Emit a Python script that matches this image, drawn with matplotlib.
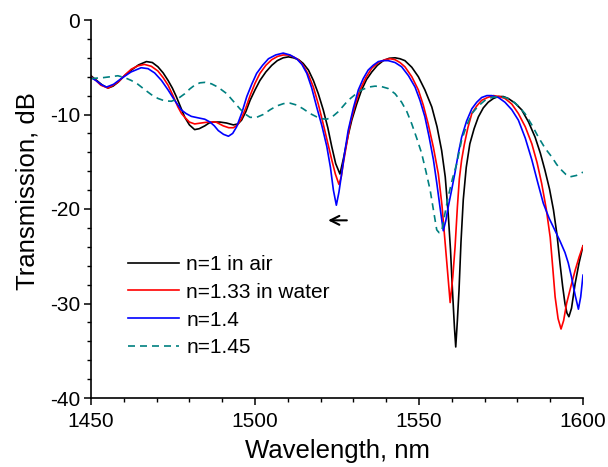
import matplotlib
matplotlib.use("Agg")
import matplotlib.pyplot as plt
from matplotlib.ticker import MultipleLocator

plt.rcParams['font.family'] = ['Liberation Sans', 'DejaVu Sans']

# ---- data ----
air_x = [1450.0, 1451.0, 1452.1, 1453.5, 1455.2, 1456.7, 1458.2, 1460.2, 1462.3, 1464.5,
         1466.9, 1468.7, 1470.4, 1472.0, 1473.5, 1474.8, 1476.0, 1477.3, 1478.6, 1480.0,
         1481.6, 1483.0, 1484.7, 1486.0, 1487.2, 1489.3, 1491.3, 1493.4, 1494.8, 1495.9,
         1497.2, 1498.5, 1500.0, 1501.5, 1503.3, 1505.1, 1506.8, 1508.6, 1510.2, 1511.7,
         1513.3, 1514.7, 1516.3, 1517.8, 1519.3, 1520.8, 1522.2, 1523.4, 1524.6, 1525.9,
         1527.0, 1528.4, 1529.5, 1531.0, 1532.5, 1534.0, 1535.6, 1537.3, 1539.1, 1540.9,
         1542.7, 1544.2, 1545.7, 1547.8, 1549.8, 1551.8, 1553.9, 1555.5, 1556.9, 1558.0,
         1558.9, 1559.6, 1560.2, 1560.8, 1561.2, 1561.7, 1562.2, 1562.8, 1563.5, 1564.4,
         1565.5, 1566.8, 1568.1, 1569.6, 1571.1, 1572.7, 1574.2, 1575.7, 1577.2, 1579.3,
         1581.3, 1583.4, 1585.4, 1587.0, 1588.4, 1589.8, 1591.0, 1592.1, 1593.0, 1593.8,
         1594.5, 1595.1, 1595.7, 1596.5, 1597.6, 1598.8, 1600.0]
air_y = [-5.9, -6.2, -6.5, -6.9, -7.2, -7.0, -6.6, -5.9, -5.3, -4.75,
         -4.4, -4.5, -4.95, -5.6, -6.4, -7.2, -8.1, -9.2, -10.3, -11.1,
         -11.6, -11.5, -11.2, -10.9, -10.8, -10.8, -10.9, -11.1, -11.0, -10.6,
         -9.7, -8.5, -7.4, -6.4, -5.5, -4.8, -4.3, -4.0, -3.9, -4.0,
         -4.2, -4.6, -5.3, -6.4, -7.8, -9.5, -11.4, -13.4, -15.2, -16.3,
         -14.6, -12.2, -10.6, -8.9, -7.4, -6.3, -5.5, -4.8, -4.3, -4.05,
         -4.0, -4.1, -4.3, -5.0, -6.0, -7.4, -9.2, -11.3, -13.8, -16.6,
         -20.5, -24.3, -28.6, -32.5, -34.6, -31.8, -28.6, -23.5, -19.0, -15.6,
         -13.1, -11.5, -10.25, -9.3, -8.7, -8.3, -8.1, -8.1, -8.3, -8.8,
         -9.5, -10.8, -12.4, -14.1, -15.9, -17.9, -20.1, -22.8, -25.8, -28.2,
         -30.0, -31.0, -31.4, -30.5, -27.9, -25.7, -23.9]

water_x = [1450.0, 1451.5, 1453.0, 1455.2, 1456.8, 1458.5, 1460.4, 1462.3, 1464.3, 1466.3,
           1468.4, 1470.4, 1472.0, 1473.5, 1475.0, 1476.5, 1477.6, 1478.6, 1480.0, 1481.6,
           1483.6, 1485.7, 1488.1, 1490.3, 1492.0, 1493.4, 1494.7, 1495.9, 1497.2, 1498.5,
           1500.0, 1501.5, 1503.3, 1505.1, 1506.9, 1508.6, 1510.2, 1511.7, 1513.2, 1514.7,
           1516.3, 1517.8, 1519.3, 1520.8, 1522.1, 1523.4, 1524.5, 1525.6, 1526.3, 1526.9,
           1528.0, 1529.0, 1530.5, 1532.0, 1533.8, 1535.6, 1537.6, 1539.6, 1541.2, 1542.7,
           1544.2, 1545.7, 1547.8, 1549.8, 1551.3, 1552.8, 1554.4, 1555.9, 1557.0, 1557.9,
           1558.8, 1559.5, 1560.3, 1561.0, 1561.7, 1562.3, 1563.0, 1563.8, 1564.9, 1566.1,
           1567.6, 1569.1, 1570.9, 1572.7, 1574.5, 1576.2, 1578.3, 1580.3, 1582.4, 1584.4,
           1586.0, 1587.4, 1588.8, 1590.0, 1590.8, 1591.5, 1592.4, 1593.3, 1594.1, 1595.0,
           1596.3, 1597.6, 1598.8, 1600.0]
water_y = [-6.0, -6.4, -6.9, -7.2, -6.9, -6.5, -5.8, -5.2, -4.85, -4.7,
           -4.9, -5.4, -6.1, -6.9, -8.0, -9.2, -9.9, -10.3, -10.8, -11.0,
           -10.9, -10.8, -10.8, -11.2, -11.4, -11.4, -11.1, -10.4, -9.3, -8.0,
           -6.7, -5.65, -4.8, -4.2, -3.85, -3.7, -3.7, -3.9, -4.2, -4.8,
           -5.8, -7.1, -8.9, -11.0, -12.9, -14.8, -16.3, -17.4, -16.6, -15.2,
           -13.0, -11.0, -9.0, -7.4, -6.1, -5.1, -4.5, -4.2, -4.1, -4.2,
           -4.5, -4.95, -6.0, -7.4, -9.0, -11.0, -13.5, -16.3, -19.6, -23.3,
           -27.0, -29.9, -27.2, -24.0, -19.8, -16.8, -14.8, -13.2, -11.4, -9.9,
           -9.1, -8.5, -8.2, -8.0, -8.1, -8.3, -8.9, -9.9, -11.3, -13.1,
           -15.1, -17.3, -20.0, -23.0, -26.3, -29.3, -31.6, -32.7, -31.8, -30.0,
           -28.2, -26.5, -25.1, -23.9]

n14_x = [1450.0, 1451.5, 1453.0, 1454.7, 1456.9, 1459.2, 1462.2, 1465.3, 1467.4, 1469.4,
         1471.5, 1473.5, 1475.5, 1477.5, 1479.0, 1480.6, 1482.6, 1484.7, 1486.3, 1487.6,
         1488.8, 1490.4, 1491.9, 1493.2, 1494.4, 1496.0, 1497.5, 1499.0, 1500.5, 1502.3,
         1504.1, 1506.3, 1508.6, 1510.7, 1512.7, 1514.3, 1515.8, 1517.3, 1518.8, 1520.4,
         1521.9, 1523.0, 1523.9, 1524.8, 1525.6, 1526.4, 1527.4, 1528.4, 1530.0, 1531.5,
         1533.0, 1534.5, 1536.0, 1537.6, 1539.1, 1540.6, 1542.7, 1544.7, 1546.8, 1548.8,
         1550.3, 1551.8, 1553.1, 1554.4, 1555.4, 1556.4, 1557.4, 1558.2, 1558.9, 1560.0,
         1561.0, 1562.0, 1563.0, 1564.5, 1566.1, 1567.6, 1569.1, 1570.7, 1572.2, 1574.2,
         1576.2, 1578.3, 1580.3, 1582.4, 1584.4, 1586.2, 1587.9, 1589.7, 1591.5, 1593.0,
         1594.5, 1595.5, 1596.5, 1597.6, 1598.6, 1599.3, 1600.0]
n14_y = [-6.1, -6.4, -6.8, -7.1, -6.8, -6.2, -5.5, -5.05, -5.15, -5.6,
         -6.4, -7.4, -8.5, -9.5, -9.9, -10.2, -10.35, -10.5, -10.8, -11.2,
         -11.7, -12.1, -12.3, -12.0, -11.3, -9.8, -8.1, -6.8, -5.65, -4.8,
         -4.1, -3.7, -3.5, -3.7, -4.1, -4.7, -5.65, -7.2, -9.2, -11.2,
         -13.4, -15.6, -18.0, -19.6, -18.2, -16.3, -13.9, -11.7, -9.3, -7.4,
         -6.2, -5.3, -4.8, -4.4, -4.3, -4.3, -4.5, -4.95, -5.9, -7.1,
         -8.5, -10.25, -12.4, -14.8, -17.2, -19.8, -22.3, -21.2, -19.8, -17.9,
         -16.1, -14.1, -12.4, -10.7, -9.4, -8.7, -8.2, -8.0, -8.0, -8.2,
         -8.7, -9.5, -10.6, -12.5, -14.8, -17.2, -19.4, -21.0, -22.3, -23.4,
         -24.6, -25.7, -27.2, -29.1, -30.6, -29.3, -27.0]

n145_x = [1450.0, 1451.8, 1453.7, 1456.0, 1458.2, 1460.3, 1462.3, 1464.3, 1466.3, 1468.4,
          1470.4, 1472.4, 1474.5, 1476.6, 1478.6, 1480.1, 1481.6, 1483.2, 1484.7, 1486.7,
          1488.7, 1491.4, 1493.4, 1495.4, 1497.0, 1498.5, 1500.5, 1502.5, 1504.6, 1506.6,
          1508.7, 1510.7, 1512.7, 1514.7, 1516.8, 1518.8, 1520.4, 1521.9, 1523.7, 1525.4,
          1526.9, 1528.4, 1530.5, 1532.5, 1534.6, 1536.6, 1538.6, 1540.6, 1542.7, 1544.7,
          1546.3, 1547.8, 1549.3, 1550.8, 1552.1, 1553.4, 1554.4, 1555.4, 1556.1, 1556.9,
          1557.9, 1558.9, 1560.2, 1561.5, 1563.0, 1564.5, 1566.1, 1568.1, 1570.1, 1572.2,
          1574.2, 1576.3, 1578.3, 1580.3, 1582.3, 1584.4, 1586.4, 1588.5, 1590.5, 1592.0,
          1593.5, 1594.8, 1596.0, 1598.0, 1600.0]
n145_y = [-6.2, -6.15, -6.1, -6.0, -5.9, -6.1, -6.4, -6.8, -7.35, -7.9,
          -8.3, -8.55, -8.6, -8.3, -7.8, -7.3, -6.9, -6.65, -6.6, -6.75,
          -7.1, -7.8, -8.6, -9.4, -9.95, -10.3, -10.3, -10.0, -9.5, -9.1,
          -8.85, -8.8, -9.0, -9.4, -9.9, -10.25, -10.45, -10.5, -10.2, -9.7,
          -9.1, -8.5, -7.9, -7.4, -7.1, -7.0, -7.05, -7.25, -7.8, -8.7,
          -9.7, -11.0, -12.5, -14.1, -16.0, -18.0, -20.1, -22.2, -22.5, -22.4,
          -20.5, -18.7, -16.8, -15.2, -12.7, -11.2, -9.9, -9.1, -8.5, -8.2,
          -8.1, -8.2, -8.5, -9.1, -9.9, -11.1, -12.4, -13.6, -14.5, -15.3,
          -15.9, -16.35, -16.6, -16.45, -16.1]

labels = ['n=1 in air', 'n=1.33 in water', 'n=1.4', 'n=1.45']
x_ticks = [1450, 1500, 1550, 1600]
y_ticks = [-40, -30, -20, -10, 0]

# ---- figure ----
W, H = 608, 467
fig = plt.figure(figsize=(W / 100, H / 100), dpi=100)
ax = fig.add_axes([91 / W, 1 - 398 / H, (583 - 91) / W, (398 - 20) / H])

ax.plot(air_x, air_y, color='black', lw=1.2, label=labels[0])
ax.plot(water_x, water_y, color='#ff0000', lw=1.2, label=labels[1])
ax.plot(n14_x, n14_y, color='#0000ff', lw=1.2, label=labels[2])
ax.plot(n145_x, n145_y, color='#008080', lw=1.2, ls=(0, (4.2, 3.0)), label=labels[3])

ax.set_xlim(1450, 1600)
ax.set_ylim(-40, 0)
ax.set_xticks(x_ticks)
ax.set_yticks(y_ticks)
ax.set_yticklabels([str(t) for t in y_ticks])
ax.xaxis.set_minor_locator(MultipleLocator(10))
ax.yaxis.set_minor_locator(MultipleLocator(2))

for s in ['top', 'right']:
    ax.spines[s].set_visible(False)
for s in ['left', 'bottom']:
    ax.spines[s].set_linewidth(1.2)

ax.tick_params(which='major', direction='out', length=5, width=1.1, labelsize=15)
ax.tick_params(axis='x', which='major', pad=5)
ax.tick_params(axis='y', which='major', pad=3)
ax.tick_params(which='minor', direction='out', length=3, width=1.0)

fig.text(337.5 / W, 1 - 458 / H, 'Wavelength, nm', fontsize=18.5,
         ha='center', va='baseline')
fig.text(28 / W, 1 - 191.5 / H, 'Transmission, dB', fontsize=18.5,
         rotation=90, ha='center', va='center')

# arrow indicating shift
ax.annotate('', xy=(1522.3, -21.2), xytext=(1528.0, -21.2),
            arrowprops=dict(arrowstyle='->', color='black', lw=1.5,
                            mutation_scale=16, shrinkA=0, shrinkB=0))

fig.legend(loc='upper left', bbox_to_anchor=(128 / W, 1 - 255 / H),
           bbox_transform=fig.transFigure, frameon=False, fontsize=15,
           handlelength=2.45, handletextpad=0.35, labelspacing=0.42,
           borderpad=0, borderaxespad=0)

fig.savefig('out.png', dpi=100)
